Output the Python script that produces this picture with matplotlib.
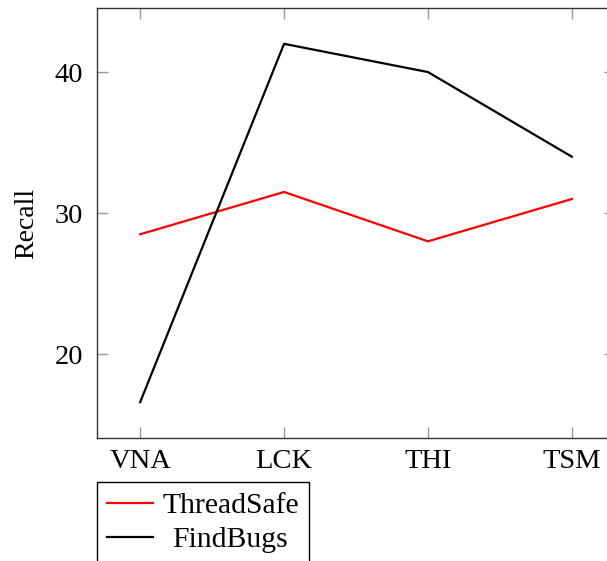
import numpy as np
import matplotlib
matplotlib.use('Agg')
import matplotlib.pyplot as plt

categories = ['VNA', 'LCK', 'THI', 'TSM']
threadsafe = [28.5, 31.5, 28.0, 31.0]
findbugs = [16.6, 42.0, 40.0, 34.0]
yticks = [20, 30, 40]

plt.rcParams['font.family'] = ['Liberation Serif', 'DejaVu Serif']
plt.rcParams['font.size'] = 20

fig = plt.figure(figsize=(6.07, 5.61), dpi=100)
ax = fig.add_axes([97/607, 1 - 438/561, 518/607, 430/561])

x = np.arange(len(categories))
ax.plot(x, threadsafe, color='red', lw=1.6, label='ThreadSafe')
ax.plot(x, findbugs, color='black', lw=1.6, label='FindBugs')

ax.set_xlim(-0.3, 3.3)
ax.set_ylim(14.06, 44.54)
ax.set_xticks(x)
ax.set_xticklabels(categories)
ax.set_yticks(yticks)
ax.set_ylabel('Recall', labelpad=11)

ax.tick_params(direction='in', length=8, width=1, color='#999999',
               top=True, right=True, labelsize=20.5)
ax.tick_params(axis='x', pad=8)
ax.tick_params(axis='y', pad=10)
for s in ax.spines.values():
    s.set_linewidth(1)
    s.set_color('#333333')

leg = ax.legend(loc='upper left', bbox_to_anchor=(97/607, 1 - 482/561),
                bbox_transform=fig.transFigure, borderaxespad=0,
                fancybox=False, edgecolor='black', framealpha=1,
                handlelength=1.55, handletextpad=0.3, labelspacing=0.25,
                borderpad=0.35, fontsize=21.3)
leg.get_frame().set_linewidth(1)

# center the legend labels like pgfplots does
fig.canvas.draw()
r = fig.canvas.get_renderer()
texts = leg.get_texts()
widths = [t.get_window_extent(r).width for t in texts]
wmax = max(widths)
for t, w in zip(texts, widths):
    t.set_x((wmax - w) / 2)

fig.savefig('out.png', dpi=100)
